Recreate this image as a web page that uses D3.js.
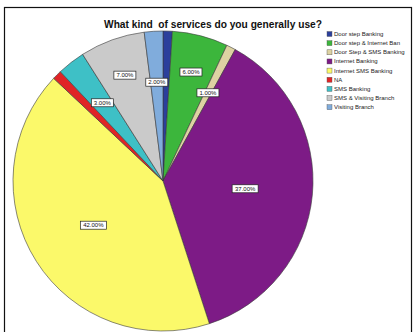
<!DOCTYPE html>
<html><head><meta charset="utf-8">
<script src="https://cdn.jsdelivr.net/npm/d3@7"></script>
<style>body{margin:0;background:#fff}svg{display:block}</style>
</head><body>
<script>
const title = "What kind  of services do you generally use?";
const categories = ["Door step Banking","Door step & Internet Ban","Door Step & SMS Banking","Internet Banking","Internet SMS Banking","NA","SMS Banking","SMS & Visiting Branch","Visiting Branch"];
const values = [1, 6, 1, 37, 42, 1, 3, 7, 2];
const labels = ["", "6.00%", "1.00%", "37.00%", "42.00%", "", "3.00%", "7.00%", "2.00%"];
const colors = ["#2b3f9c","#3cb63c","#ddd2a2","#7d1b86","#fbf96a","#e02426","#3ec0c6","#cacaca","#80acdc"];

const W = 415, H = 332;
const svg = d3.select("body").append("svg").attr("width", W).attr("height", H);
svg.append("rect").attr("x", 4.5).attr("y", 7.5).attr("width", 407).attr("height", 330)
  .attr("fill", "#fff").attr("stroke", "#111").attr("stroke-width", 1.2);

svg.append("text").attr("x", 213).attr("y", 27.5).attr("text-anchor", "middle")
  .style("white-space", "pre")
  .attr("font-family", "Arial, Liberation Sans, sans-serif").attr("font-weight", "bold")
  .attr("font-size", 10.2).attr("fill", "#111").text(title);

const cx = 163, cy = 181, r = 150;
const pie = d3.pie().sort(null).value(d => d)(values);
const arc = d3.arc().innerRadius(0).outerRadius(r);
const g = svg.append("g").attr("transform", `translate(${cx},${cy})`);
g.selectAll("path").data(pie).join("path")
  .attr("d", arc).attr("fill", (d, i) => colors[i])
  .attr("stroke", "#3a3a3a").attr("stroke-width", 0.6);

const lab = g.selectAll("g.lab").data(pie.filter((d, i) => labels[i])).join("g").attr("class", "lab")
  .attr("transform", d => {
    const frac = (d.endAngle - d.startAngle) / (2 * Math.PI);
    const rr = frac > 0.2 ? r * 0.55 : (frac > 0.05 ? r * 0.75 : r * 0.66);
    const a = (d.startAngle + d.endAngle) / 2;
    return `translate(${Math.sin(a) * rr},${-Math.cos(a) * rr})`;
  });
lab.append("rect").attr("x", d => d.value >= 10 ? -13 : -11).attr("y", -4)
  .attr("width", d => d.value >= 10 ? 26 : 22).attr("height", 8)
  .attr("fill", "#fff").attr("stroke", "#222").attr("stroke-width", 0.7);
lab.append("text").attr("text-anchor", "middle").attr("y", 2)
  .attr("font-family", "Arial, Liberation Sans, sans-serif").attr("font-size", 6).attr("fill", "#111")
  .text(d => labels[d.index]);

const leg = svg.append("g").attr("transform", "translate(327,34)");
const rows = leg.selectAll("g").data(categories).join("g")
  .attr("transform", (d, i) => `translate(0,${i * 9.15})`);
rows.append("rect").attr("x", 0).attr("y", -2.5).attr("width", 5).attr("height", 5)
  .attr("fill", (d, i) => colors[i]).attr("stroke", "#555").attr("stroke-width", 0.4);
rows.append("text").attr("x", 7).attr("y", 2)
  .attr("font-family", "Arial, Liberation Sans, sans-serif").attr("font-size", 6).attr("fill", "#222")
  .text(d => d);
</script>
</body></html>
